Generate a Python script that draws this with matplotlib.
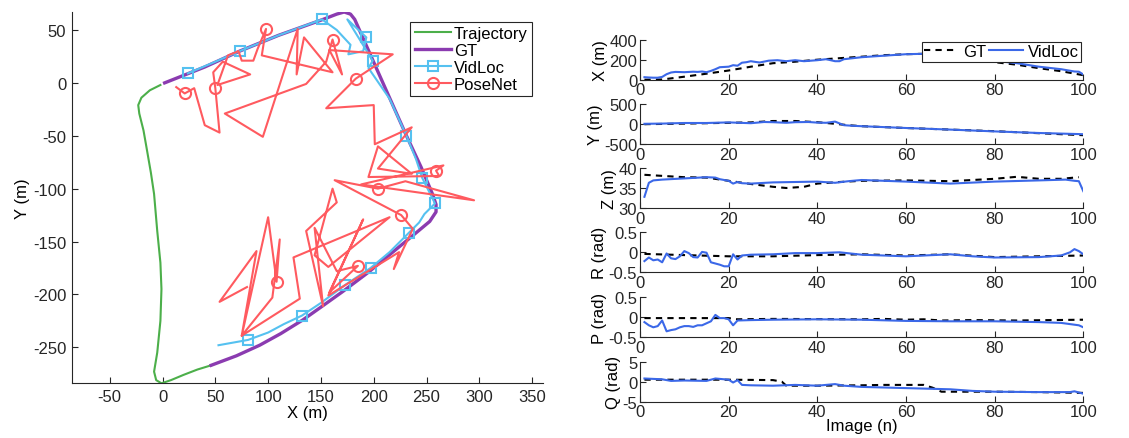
"""Top-down trajectory (GT / VidLoc / PoseNet) plus per-image pose components."""
from __future__ import annotations

import matplotlib

matplotlib.use("Agg")
import matplotlib.pyplot as plt

plt.rcParams.update(
    {
        "font.family": ["Liberation Sans", "DejaVu Sans"],
        "font.size": 12,
        "axes.unicode_minus": False,
        "axes.spines.top": False,
        "axes.spines.right": False,
        "axes.edgecolor": "#262626",
        "axes.linewidth": 0.8,
        "xtick.direction": "in",
        "ytick.direction": "in",
        "xtick.color": "#262626",
        "ytick.color": "#262626",
        "xtick.major.size": 4,
        "ytick.major.size": 4,
        "xtick.major.pad": 4,
        "ytick.major.pad": 4,
    }
)

C_TRAJ = "#4caf4a"
C_GT = "#8b3bb0"
C_VID = "#55c1f0"
C_POSE = "#ff5a5f"
C_VID_TS = "#3b68e8"

# ---- top-down view (metres) ----
TRAJ_X = [-2, -12, -20, -23, -22, -18, -15, -11, -8, -5, -2, -1, -2, -5, -8, -6, -1, 8, 20, 33, 46]
TRAJ_Y = [-2, -7, -14, -21, -29, -45, -62, -85, -105, -140, -170, -195, -225, -255, -273, -281, -284,
          -281, -276, -271, -267]

GT_X = [2, 40, 73, 110, 152, 165, 172, 178, 182, 202, 231, 245, 256, 259, 259, 253, 235, 218, 195, 171,
        150, 133, 112, 92, 70, 46]
GT_Y = [0, 15, 30, 45, 60, 65, 67, 65, 60, 15, -50, -80, -106, -115, -122, -131, -146, -160, -179, -197,
        -212, -224, -237, -248, -258, -267]

VID_X = [24, 50, 73, 110, 151, 165, 178, 176, 190, 193, 175, 199, 195, 215, 231, 240, 246, 252, 258,
         248, 243, 233, 215, 197, 173, 150, 132, 115, 100, 81, 53]
VID_Y = [9, 20, 30, 45, 60, 50, 36, 27, 30, 43, 60, 21, 14, -15, -50, -72, -90, -102, -114, -124, -132,
         -142, -160, -175, -191, -208, -220, -228, -236, -243, -248]
VID_MARKS = [0, 2, 4, 9, 11, 14, 16, 18, 21, 23, 24, 26, 29]

POSE_X = [13, 21, 30, 40, 54, 50, 48, 57, 83, 52, 62, 72, 75, 86, 90, 98,
          94, 161, 134, 127, 128, 95, 59, 136, 155, 161, 170, 158, 218, 183,
          155, 200, 201, 236, 204, 236, 204, 195, 262, 259, 266, 188, 295, 230, 204, 163, 226,
          237, 219, 224, 157, 190, 158, 185, 165, 144, 152, 136, 165, 161, 144, 157, 215,
          124, 130, 75, 104, 111, 108, 100, 75, 89, 54, 80]
POSE_Y = [-4, -10, -5, -40, -47, -5, 10, 20, 8, -2, 26, 30, 21, 21, 32, 51,
          26, 10, 43, 8, 51, -51, -29, -1, 20, 41, 8, 31, 27, 4,
          -24, -21, -58, -42, -81, -86, -60, -89, -88, -83, -78, -96, -111, -93, -100, -92, -125,
          -138, -176, -160, -201, -129, -198, -173, -178, -137, -211, -140, -113, -100, -163, -174, -127,
          -165, -204, -239, -203, -148, -188, -127, -239, -159, -207, -193]
POSE_MARKS = [1, 5, 15, 25, 29, 39, 44, 46, 53, 68]

XTICKS = [-50, 0, 50, 100, 150, 200, 250, 300, 350]
YTICKS = [-250, -200, -150, -100, -50, 0, 50]

# ---- per-image components (image index, value) ----
GT_TX_N = [1, 5, 10, 15, 20, 25, 30, 35, 40, 45, 50, 55, 60, 65, 70, 75, 80, 85, 90, 95, 100]
GT_TX = [0, 2, 30, 60, 92, 130, 165, 180, 200, 215, 230, 245, 255, 260, 250, 225, 175, 150, 115, 85, 45]
VID_TX_N = [1, 2, 3, 4, 5, 6, 7, 8, 10, 12, 13, 14, 15, 16, 17, 18, 20, 21, 22, 23, 24, 25, 26, 27, 29,
            31, 33, 35, 37, 40, 42, 44, 45, 46, 48, 50, 55, 60, 65, 70, 75, 80, 85, 90, 95, 98, 99, 100]
VID_TX = [25, 22, 20, 20, 28, 55, 72, 78, 75, 80, 78, 82, 75, 88, 105, 125, 130, 145, 140, 170, 175, 185,
          178, 172, 190, 195, 185, 195, 185, 195, 205, 185, 185, 205, 215, 225, 240, 255, 260, 255, 235,
          190, 165, 130, 105, 82, 80, 52]

GT_TY_N = [1, 10, 20, 25, 30, 35, 40, 44, 47, 50, 60, 70, 80, 90, 100]
GT_TY = [-5, 10, 30, 40, 75, 75, 45, 5, -30, -55, -100, -140, -180, -230, -280]
VID_TY_N = [1, 5, 10, 15, 20, 25, 28, 30, 33, 35, 38, 40, 42, 44, 46, 48, 50, 60, 70, 80, 90, 100]
VID_TY = [5, 10, 25, 25, 40, 20, 50, 45, 30, 45, 50, 35, 30, 60, -30, -45, -55, -100, -140, -185, -225, -255]

GT_TZ_N = [1, 10, 15, 20, 25, 30, 33, 37, 40, 45, 50, 60, 70, 75, 80, 85, 90, 95, 99]
GT_TZ = [38.3, 37.7, 37.6, 36.8, 36.0, 35.3, 35.0, 35.3, 36.1, 36.5, 36.8, 36.9, 36.7, 37.0, 37.3, 37.8,
         37.3, 37.3, 37.7]
VID_TZ_N = [1, 2, 3, 5, 10, 15, 17, 18, 20, 21, 22, 23, 25, 30, 35, 40, 44, 47, 50, 55, 60, 70, 80, 90,
            96, 98, 99, 100]
VID_TZ = [32.8, 36.3, 36.9, 37.1, 37.4, 37.7, 37.6, 37.2, 36.8, 36.1, 36.5, 36.2, 36.1, 36.4, 36.5, 36.6,
          36.3, 36.7, 37.0, 36.8, 36.6, 36.1, 36.6, 36.9, 37.1, 36.8, 36.7, 34.2]

GT_RX_N = [1, 10, 20, 30, 40, 50, 60, 70, 80, 90, 100]
GT_RX = [-0.04, -0.07, -0.1, -0.1, -0.07, -0.05, -0.08, -0.05, -0.12, -0.1, -0.08]
VID_RX_N = [1, 2, 3, 4, 5, 6, 7, 8, 9, 10, 11, 12, 13, 14, 15, 16, 17, 18, 19, 20, 21, 22, 23, 25, 30,
            35, 40, 45, 50, 60, 70, 75, 80, 90, 95, 97, 98, 99, 100]
VID_RX = [-0.22, -0.13, -0.2, -0.18, -0.25, -0.03, -0.15, -0.17, -0.1, 0.03, -0.02, -0.12, -0.13, 0.01,
          -0.01, -0.25, -0.28, -0.31, -0.35, -0.35, -0.05, -0.18, -0.08, -0.06, -0.05, -0.02, -0.02, 0.0,
          -0.06, -0.1, -0.05, -0.1, -0.13, -0.12, -0.08, 0.0, 0.08, 0.03, -0.05]

GT_RY_N = [1, 20, 22, 30, 50, 55, 60, 64, 68, 75, 85, 100]
GT_RY = [-0.02, -0.02, -0.05, -0.04, -0.05, -0.04, -0.06, -0.05, -0.08, -0.07, -0.08, -0.06]
VID_RY_N = [1, 2, 3, 4, 5, 6, 7, 8, 9, 10, 11, 12, 13, 14, 15, 16, 17, 18, 19, 20, 21, 22, 25, 30, 40,
            50, 60, 70, 80, 90, 95, 97, 99, 100]
VID_RY = [-0.12, -0.2, -0.25, -0.22, -0.08, -0.35, -0.32, -0.3, -0.25, -0.22, -0.22, -0.24, -0.2, -0.2,
          -0.15, -0.1, 0.06, -0.02, -0.02, -0.05, -0.2, -0.08, -0.07, -0.06, -0.05, -0.06, -0.09, -0.1,
          -0.1, -0.12, -0.14, -0.17, -0.2, -0.25]

GT_RZ_N = [1, 20, 30, 32, 33, 40, 50, 55, 64, 66, 68, 75, 80, 90, 100]
GT_RZ = [0.5, 0.5, 0.4, 0.0, -1.0, -1.0, -0.9, -0.8, -0.8, -1.5, -2.5, -2.5, -2.5, -2.6, -2.8]
VID_RZ_N = [1, 5, 7, 10, 15, 17, 20, 21, 22, 23, 25, 30, 35, 40, 44, 46, 50, 60, 70, 75, 80, 90, 97,
            98, 99, 100]
VID_RZ = [0.8, 0.6, 0.2, 0.3, 0.2, 0.8, 0.5, -0.2, 0.4, -0.8, -0.9, -1.0, -0.8, -1.0, -0.6, -1.0, -1.3,
          -1.6, -1.9, -2.3, -2.5, -2.6, -2.6, -2.4, -2.7, -3.0]

PANELS = [
    ("X (m)", GT_TX_N, GT_TX, VID_TX_N, VID_TX, (0, 400), [0, 200, 400], ["0", "200", "400"]),
    ("Y (m)", GT_TY_N, GT_TY, VID_TY_N, VID_TY, (-500, 500), [-500, 0, 500], ["-500", "0", "500"]),
    ("Z (m)", GT_TZ_N, GT_TZ, VID_TZ_N, VID_TZ, (30, 40), [30, 35, 40], ["30", "35", "40"]),
    ("R (rad)", GT_RX_N, GT_RX, VID_RX_N, VID_RX, (-0.5, 0.5), [-0.5, 0, 0.5], ["-0.5", "0", "0.5"]),
    ("P (rad)", GT_RY_N, GT_RY, VID_RY_N, VID_RY, (-0.5, 0.5), [-0.5, 0, 0.5], ["-0.5", "0", "0.5"]),
    ("Q (rad)", GT_RZ_N, GT_RZ, VID_RZ_N, VID_RZ, (-5, 5), [-5, 0, 5], ["-5", "0", "5"]),
]

W, H = 1129, 439
fig = plt.figure(figsize=(W / 100, H / 100), dpi=100)


def px_axes(x0, y0, x1, y1):
    return fig.add_axes([x0 / W, 1 - y1 / H, (x1 - x0) / W, (y1 - y0) / H])


# left: trajectory map
ax = px_axes(71.7, 13, 542.7, 384.3)
ax.plot(TRAJ_X, TRAJ_Y, color=C_TRAJ, lw=1.5, label="Trajectory")
ax.plot(GT_X, GT_Y, color=C_GT, lw=2.4, label="GT")
ax.plot(VID_X, VID_Y, color=C_VID, lw=1.5, marker="s", ms=7, mfc="none", mew=1.5,
        markevery=VID_MARKS, label="VidLoc")
ax.plot(POSE_X, POSE_Y, color=C_POSE, lw=1.5, marker="o", ms=8, mfc="none", mew=1.5,
        markevery=POSE_MARKS, label="PoseNet")
ax.set_xlim(-86, 360)
ax.set_ylim(-284, 67)
ax.set_xticks(XTICKS)
ax.set_yticks(YTICKS)
ax.set_xlabel("X (m)", labelpad=1)
ax.set_ylabel("Y (m)", labelpad=2)
leg = ax.legend(loc="upper right", bbox_to_anchor=(0.977, 0.973), borderaxespad=0, fancybox=False,
                edgecolor="#262626", framealpha=1, handlelength=2.2, handletextpad=0.15,
                labelspacing=0.12, borderpad=0.25)
leg.get_frame().set_linewidth(0.8)

# right: per-image components
tops = [40.7, 105, 169, 233.3, 298.3, 362.7]
for top, (ylab, gn, gv, vn, vv, ylim, yt, ytl) in zip(tops, PANELS):
    a = px_axes(640, top, 1083.3, top + 40)
    a.plot(gn, gv, color="black", lw=1.5, dashes=(3, 2.5), label="GT")
    a.plot(vn, vv, color=C_VID_TS, lw=1.5, label="VidLoc")
    a.set_xlim(0, 100)
    a.set_ylim(*ylim)
    a.set_xticks([0, 20, 40, 60, 80, 100])
    a.set_yticks(yt)
    a.set_yticklabels(ytl)
    a.tick_params(pad=2)
    a.set_ylabel(ylab, labelpad=1)
    if ylab == "X (m)":
        lg = a.legend(loc="upper right", bbox_to_anchor=(0.995, 0.95), borderaxespad=0, ncol=2,
                      fancybox=False, edgecolor="#262626", framealpha=1, handlelength=2.0,
                      handletextpad=0.3, columnspacing=0.2, borderpad=0.15)
        lg.get_frame().set_linewidth(0.8)
    if ylab == "Q (rad)":
        a.set_xlabel("Image (n)", labelpad=-1)

fig.savefig("out.png", dpi=100)
